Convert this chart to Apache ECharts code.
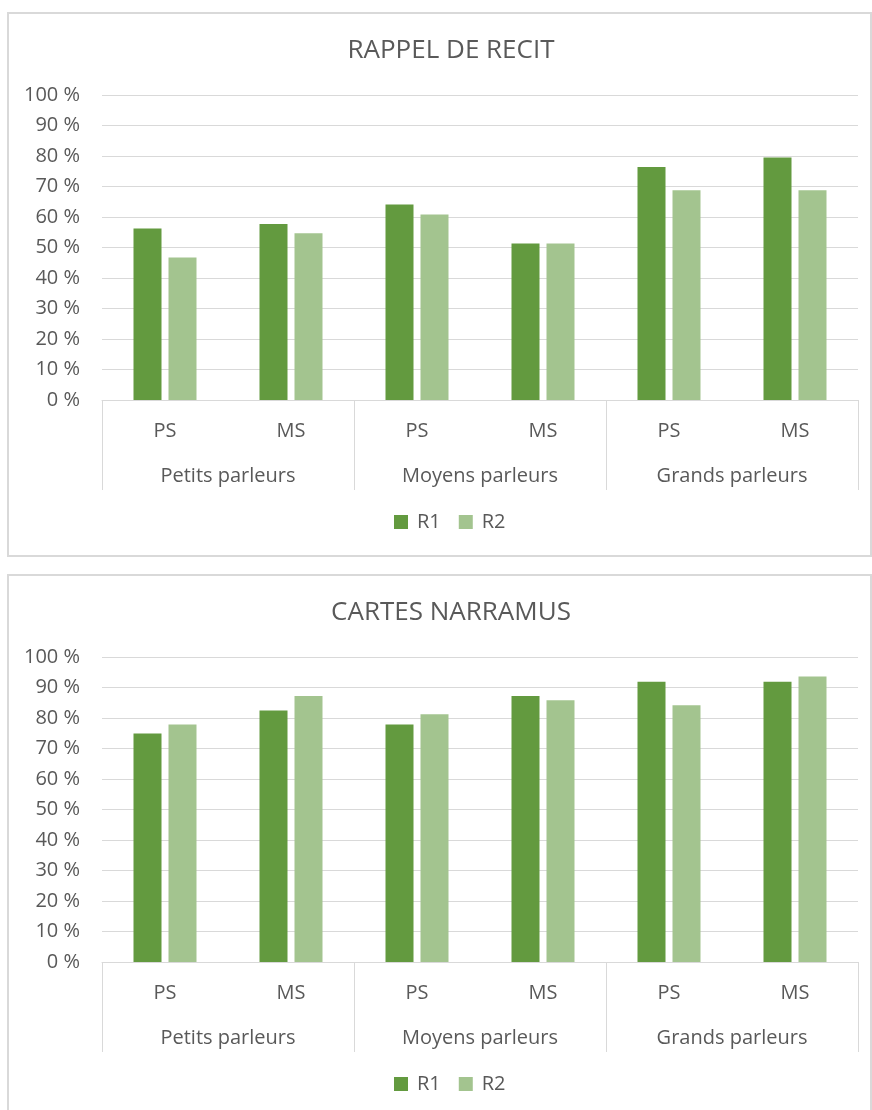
<!DOCTYPE html>
<html>
<head>
<meta charset="utf-8">
<script src="https://cdn.jsdelivr.net/npm/echarts@6/dist/echarts.min.js"></script>
<style>
    html, body { margin: 0; padding: 0; background: #fff; }
    #chart { width: 872px; height: 1110px; }
</style>
</head>
<body>
<div id="chart"></div>
<script>
    // categories
    var groups = ['Petits parleurs', 'Moyens parleurs', 'Grands parleurs'];
    var levels = ['PS', 'MS', 'PS', 'MS', 'PS', 'MS'];
    var titles = ['RAPPEL DE RECIT', 'CARTES NARRAMUS'];
    var seriesNames = ['R1', 'R2'];

    // values in %
    var rappelR1 = [56.2, 57.7, 64.1, 51.3, 76.4, 79.5];
    var rappelR2 = [46.7, 54.7, 60.8, 51.3, 68.8, 68.8];
    var cartesR1 = [74.9, 82.5, 77.9, 87.2, 91.9, 91.9];
    var cartesR2 = [77.9, 87.2, 81.2, 85.8, 84.2, 93.6];

    var textColor = '#595959';
    var lineColor = '#d9d9d9';
    var colors = ['#639a3f', '#a3c48f'];
    var font = '"Open Sans", sans-serif';

    var chart = echarts.init(document.getElementById('chart'));

    // vertical offset of the second panel
    var shift = 562;

    function panelAxes(i) {
        var x = [{
            type: 'category',
            gridIndex: i,
            position: 'bottom',
            data: levels,
            axisLine: { lineStyle: { color: lineColor, width: 1 } },
            axisTick: { show: false },
            axisLabel: { color: textColor, fontSize: 20, fontFamily: font, lineHeight: 20, margin: 21 }
        }, {
            type: 'category',
            gridIndex: i,
            position: 'bottom',
            data: groups,
            axisLine: { show: false },
            axisTick: { show: true, length: 90, lineStyle: { color: lineColor, width: 1 } },
            axisLabel: { color: textColor, fontSize: 20, fontFamily: font, lineHeight: 20, margin: 66 }
        }];
        var y = {
            type: 'value',
            gridIndex: i,
            min: 0,
            max: 100,
            interval: 10,
            axisLine: { show: false },
            axisTick: { show: false },
            splitLine: { lineStyle: { color: lineColor, width: 1 } },
            axisLabel: {
                color: textColor, fontSize: 20, fontFamily: font, margin: 22,
                formatter: function (v) { return v + ' %'; }
            }
        };
        return { x: x, y: y };
    }

    var a0 = panelAxes(0);
    var a1 = panelAxes(1);

    function bar(name, data, i, c) {
        return {
            name: name,
            type: 'bar',
            xAxisIndex: i * 2,
            yAxisIndex: i,
            data: data,
            barGap: '25%',
            barCategoryGap: '50%',
            itemStyle: { color: colors[c] },
            silent: true
        };
    }

    var option = {
        animation: false,
        backgroundColor: '#fff',
        graphic: [
            { type: 'rect', shape: { x: 8, y: 13, width: 863, height: 543 }, style: { fill: null, stroke: lineColor, lineWidth: 2 }, z: -1 },
            { type: 'rect', shape: { x: 8, y: 13 + shift, width: 863, height: 543 }, style: { fill: null, stroke: lineColor, lineWidth: 2 }, z: -1 }
        ],
        title: [0, 1].map(function (i) {
            return {
                text: titles[i],
                left: 451,
                textAlign: 'center',
                top: 36 + i * shift,
                padding: 0,
                textStyle: { color: textColor, fontSize: 26, fontWeight: 'normal', fontFamily: font, lineHeight: 30 }
            };
        }),
        legend: [0, 1].map(function (i) {
            return {
                data: seriesNames,
                left: 394,
                top: 512 + i * shift,
                padding: 0,
                itemWidth: 14,
                itemHeight: 14,
                itemGap: 18,
                icon: 'rect',
                selectedMode: false,
                textStyle: { color: textColor, fontSize: 20, fontFamily: font, lineHeight: 20, padding: [0, 0, 0, 4] }
            };
        }),
        grid: [
            { left: 102, right: 14, top: 95, height: 305 },
            { left: 102, right: 14, top: 95 + shift, height: 305 }
        ],
        xAxis: a0.x.concat(a1.x),
        yAxis: [a0.y, a1.y],
        series: [
            bar('R1', rappelR1, 0, 0),
            bar('R2', rappelR2, 0, 1),
            bar('R1', cartesR1, 1, 0),
            bar('R2', cartesR2, 1, 1)
        ]
    };

    chart.setOption(option);
</script>
</body>
</html>
